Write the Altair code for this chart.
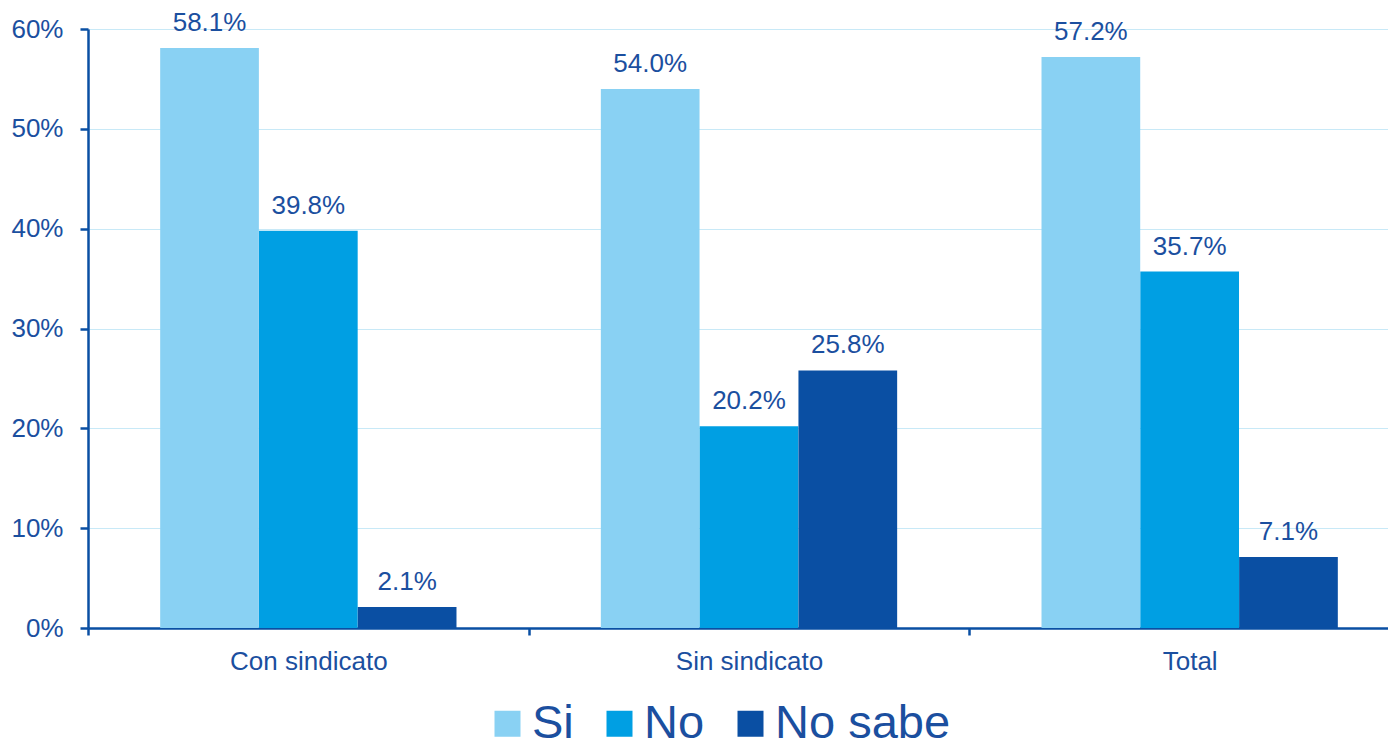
import altair as alt
import pandas as pd

categories = ["Con sindicato", "Sin sindicato", "Total"]
series = ["Si", "No", "No sabe"]
si_values = [58.1, 54.0, 57.2]
no_values = [39.8, 20.2, 35.7]
nosabe_values = [2.1, 25.8, 7.1]
colors = ["#89D1F3", "#009FE3", "#0A4FA3"]
text_color = "#1B4F9F"

rows = []
for i, c in enumerate(categories):
    for s, vals in zip(series, [si_values, no_values, nosabe_values]):
        rows.append({"cat": c, "serie": s, "val": vals[i] / 100.0,
                     "label": f"{vals[i]:.1f}%"})
df = pd.DataFrame(rows)

x_enc = alt.X("cat:N", sort=categories,
              scale=alt.Scale(paddingInner=0, paddingOuter=0, range=[0, 1322]),
              axis=alt.Axis(title=None, labelAngle=0, labelFontSize=26,
                            labelColor=text_color, labelFont="Liberation Sans",
                            labelPadding=13, tickBand="extent", tickSize=7,
                            tickWidth=2.5, tickColor="#0A4FA3",
                            domainColor="#0A4FA3", domainWidth=2.5, grid=False))
xo_enc = alt.XOffset("serie:N", sort=series,
                     scale=alt.Scale(paddingInner=0, paddingOuter=0.73))
y_enc = alt.Y("val:Q", scale=alt.Scale(domain=[0, 0.6], nice=False),
              axis=alt.Axis(title=None, format=".0%", values=[0, .1, .2, .3, .4, .5, .6],
                            labelFontSize=26, labelColor=text_color,
                            labelFont="Liberation Sans", labelPadding=17,
                            tickSize=8, tickWidth=2.5, tickColor="#0A4FA3",
                            domainColor="#0A4FA3", domainWidth=2.5,
                            grid=True, gridColor="#C8E9F7", gridWidth=1))

bars = alt.Chart(df).mark_bar(size=98.7).encode(
    x=x_enc, xOffset=xo_enc, y=y_enc,
    color=alt.Color("serie:N", sort=series,
                    scale=alt.Scale(domain=series, range=colors),
                    legend=alt.Legend(title=None, orient="none", legendX=396, legendY=671,
                                      direction="horizontal", symbolType="square",
                                      symbolSize=676, symbolStrokeWidth=0,
                                      labelFontSize=47, labelColor=text_color,
                                      labelFont="Liberation Sans", labelOffset=1,
                                      labelLimit=500,
                                      columnPadding=22, padding=0)),
)

labels = alt.Chart(df).mark_text(fontSize=26, font="Liberation Sans", color=text_color,
                                 baseline="alphabetic", dy=-17).encode(
    x=alt.X("cat:N", sort=categories), xOffset=alt.XOffset("serie:N", sort=series),
    y="val:Q", text="label:N")

chart = alt.layer(bars, labels).properties(
    width=1300, height=599,
    autosize=alt.AutoSizeParams(type="none"),
    padding={"left": 80, "top": 21, "right": 0, "bottom": 130},
).configure_view(stroke=None).configure(background="white")

chart.save("out.html", embed_options={"renderer": "svg", "actions": False})
